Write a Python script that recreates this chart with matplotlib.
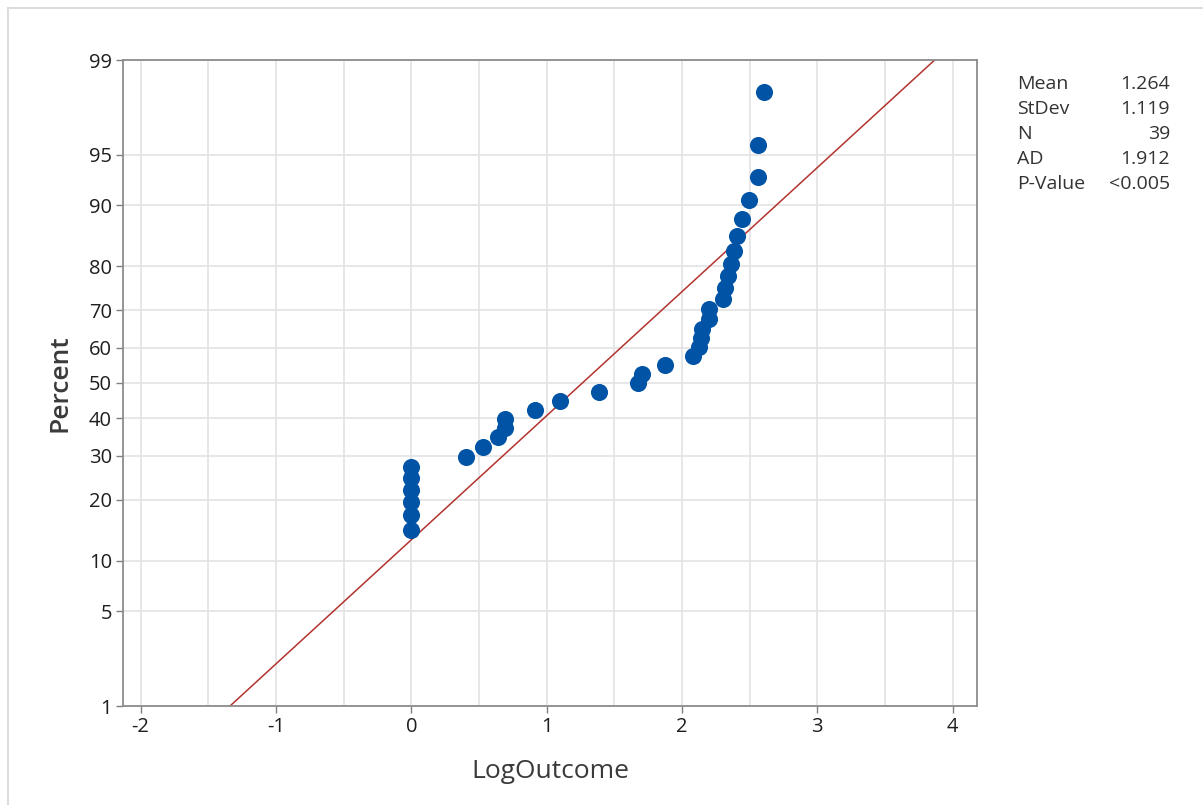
import math
import numpy as np
import matplotlib
matplotlib.use("Agg")
import matplotlib.pyplot as plt
from matplotlib.lines import Line2D

# Observed values (log scale) and their plotting positions (percent)
log_outcome = [0.0, 0.0, 0.0, 0.0, 0.0, 0.0,
               0.405, 0.531, 0.642, 0.693, 0.693, 0.916, 1.099, 1.386,
               1.675, 1.705, 1.872, 2.079, 2.128, 2.140, 2.148, 2.197,
               2.197, 2.303, 2.320, 2.340, 2.362, 2.382, 2.407, 2.444,
               2.493, 2.565, 2.565, 2.603]
percent = [14.5, 17.0, 19.5, 22.1, 24.6, 27.2,
           29.7, 32.2, 34.8, 37.3, 39.8, 42.4, 44.9, 47.5,
           50.0, 52.5, 55.1, 57.6, 60.2, 62.7, 65.2, 67.8,
           70.3, 72.8, 75.4, 77.9, 80.4, 82.9, 85.5,
           88.1, 90.6, 93.1, 95.7, 98.2]

# Fitted normal distribution and summary statistics
mean_val = 1.264
sd_val = 1.119
stat_names = ["Mean", "StDev", "N", "AD", "P-Value"]
stat_values = ["1.264", "1.119", "39", "1.912", "<0.005"]

y_ticks = [1, 5, 10, 20, 30, 40, 50, 60, 70, 80, 90, 95, 99]
x_ticks = [-2, -1, 0, 1, 2, 3, 4]

_erf = np.vectorize(math.erf, otypes=[float])


def norm_cdf(z):
    z = np.asarray(z, dtype=float)
    if z.size == 0:
        return z.copy()
    return 0.5 * (1.0 + _erf(z / math.sqrt(2.0)))


def norm_ppf(p):
    p = np.asarray(p, dtype=float)
    if p.size == 0:
        return p.copy()
    p = np.clip(p, 1e-12, 1 - 1e-12)
    lo = np.full(p.shape, -10.0)
    hi = np.full(p.shape, 10.0)
    for _ in range(60):
        mid = 0.5 * (lo + hi)
        below = norm_cdf(mid) < p
        lo = np.where(below, mid, lo)
        hi = np.where(below, hi, mid)
    return 0.5 * (lo + hi)


def fwd(pct):
    return norm_ppf(np.asarray(pct, dtype=float) / 100.0)


def inv(z):
    return norm_cdf(z) * 100.0


plt.rcParams["font.family"] = ["Open Sans", "DejaVu Sans"]

fig = plt.figure(figsize=(12.03, 8.05), dpi=100)
ax = fig.add_axes([123 / 1203, 1 - 706 / 805, (977 - 123) / 1203, (706 - 60) / 805])

ax.set_yscale("function", functions=(fwd, inv))
ax.set_ylim(1, 99)
ax.set_xlim(-2.13, 4.18)

ax.set_yticks(y_ticks)
ax.set_yticklabels([str(t) for t in y_ticks])
ax.yaxis.set_minor_locator(matplotlib.ticker.NullLocator())
ax.set_xticks(x_ticks)
ax.set_xticklabels([str(t) for t in x_ticks])
ax.set_xticks(np.arange(-2, 4.01, 0.5), minor=True)

grid_c = "#E3E3E3"
ax.grid(True, which="both", axis="x", color=grid_c, linewidth=1.2)
ax.grid(True, which="major", axis="y", color=grid_c, linewidth=1.2)
ax.tick_params(axis="x", which="minor", length=0)
ax.tick_params(axis="both", which="major", direction="out", length=5,
               width=1, color="#7F7F7F", labelsize=14.5, labelcolor="#1E1E1E",
               pad=3)
ax.set_axisbelow(True)
for sp in ax.spines.values():
    sp.set_color("#8C8C8C")
    sp.set_linewidth(1.3)

# Fitted line from the 1st to the 99th percentile
x_lo = mean_val + sd_val * float(norm_ppf(0.01))
x_hi = mean_val + sd_val * float(norm_ppf(0.99))
x_line = np.linspace(x_lo, x_hi, 200)
ax.plot(x_line, inv((x_line - mean_val) / sd_val), color="#B3332E",
        linewidth=1.1, zorder=2)

ax.plot(log_outcome, percent, linestyle="none", marker="o", markersize=12.3,
        color="#0053A5", markeredgewidth=0, zorder=3)

ax.set_xlabel("LogOutcome", fontsize=19, color="#3A3A3A", labelpad=16)
ax.set_ylabel("Percent", fontsize=19, color="#3A3A3A", labelpad=12,
              fontweight="semibold")

# Summary statistics table
for i, (name, val) in enumerate(zip(stat_names, stat_values)):
    y = 1 - (84 + 25 * i) / 805
    fig.text(1017 / 1203, y, name, fontsize=14, color="#333333",
             ha="left", va="center")
    fig.text(1170 / 1203, y, val, fontsize=14, color="#333333",
             ha="right", va="center")

# Outer frame lines
fig.add_artist(Line2D([8 / 1203, 1.0], [1 - 8.5 / 805, 1 - 8.5 / 805],
                      color="#DDDDDD", linewidth=1.5))
fig.add_artist(Line2D([8 / 1203, 8 / 1203], [0, 1 - 8.5 / 805],
                      color="#DDDDDD", linewidth=1.5))

fig.savefig("out.png", dpi=100)
